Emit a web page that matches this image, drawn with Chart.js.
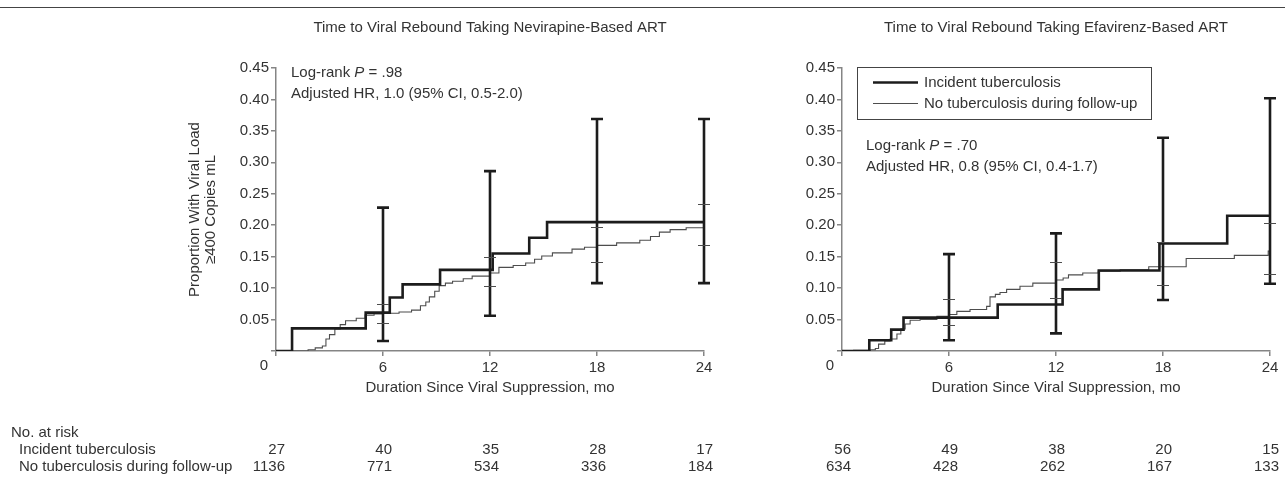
<!DOCTYPE html>
<html>
<head>
<meta charset="utf-8">
<script src="https://cdn.jsdelivr.net/npm/chart.js@4.4.1/dist/chart.umd.min.js"></script>
<style>
  body { margin: 0; background: #fff; }
  #fig { position: relative; width: 1285px; height: 485px; overflow: hidden; background: #fff; }
  #rule { position: absolute; left: 0; top: 7px; width: 1285px; height: 0; border-top: 1px solid #444; }
  canvas { position: absolute; top: 0; }
  #left { left: 0; }
  #right { left: 722px; }
</style>
</head>
<body>
<div id="fig">
  <div id="rule"></div>
  <canvas id="left" width="722" height="485"></canvas>
  <canvas id="right" width="563" height="485"></canvas>
</div>
<script>
// Months at which CI bars and at-risk counts are reported
const ciMonths = [6, 12, 18, 24];
const riskMonths = [0, 6, 12, 18, 24];

// Nevirapine-based ART
const nvpTbMonths = [0, 0.9, 5.03, 6.38, 7.1, 9.2, 12.15, 14.2, 15.2, 24];
const nvpTbProp   = [0, 0.036, 0.061, 0.085, 0.106, 0.129, 0.155, 0.18, 0.205, 0.205];
const nvpNoTbMonths = [0, 1.8, 2.2, 2.6, 2.8, 3.0, 3.3, 3.6, 3.9, 4.5, 5.0, 5.5, 6.0, 6.9, 7.6, 8.1, 8.4, 8.6, 8.9, 9.15, 9.5, 9.9, 10.5, 11.0, 12.0, 12.5, 13.3, 14.0, 14.5, 14.9, 15.5, 16.6, 17.3, 18.0, 19.1, 20.4, 21.0, 21.5, 22.1, 23.0, 24.0];
const nvpNoTbProp   = [0, 0.002, 0.005, 0.008, 0.019, 0.026, 0.035, 0.042, 0.048, 0.052, 0.057, 0.059, 0.06, 0.062, 0.065, 0.072, 0.078, 0.086, 0.095, 0.104, 0.108, 0.111, 0.115, 0.119, 0.124, 0.133, 0.136, 0.14, 0.146, 0.151, 0.156, 0.162, 0.165, 0.168, 0.172, 0.176, 0.182, 0.189, 0.193, 0.196, 0.198];
const nvpTbLow    = [0.016, 0.056, 0.108, 0.108];
const nvpTbHigh   = [0.228, 0.286, 0.369, 0.369];
const nvpNoTbLow  = [0.044, 0.104, 0.142, 0.168];
const nvpNoTbHigh = [0.074, 0.150, 0.197, 0.234];
const nvpRiskTb   = [27, 40, 35, 28, 17];
const nvpRiskNoTb = [1136, 771, 534, 336, 184];

// Efavirenz-based ART
const efvTbMonths = [0, 1.53, 2.76, 3.45, 8.73, 12.37, 14.4, 17.8, 21.6, 24];
const efvTbProp   = [0, 0.017, 0.034, 0.053, 0.074, 0.098, 0.128, 0.171, 0.215, 0.215];
const efvNoTbMonths = [0, 0.65, 1.59, 1.87, 2.05, 2.4, 2.7, 3.08, 3.3, 3.54, 3.82, 4.38, 5.32, 6.0, 6.44, 7.18, 8.11, 8.3, 8.6, 8.86, 9.23, 9.98, 10.7, 12.0, 12.4, 12.7, 13.5, 14.37, 15.6, 17.2, 19.3, 22.0, 23.9, 24];
const efvNoTbProp   = [0, 0.001, 0.002, 0.004, 0.011, 0.016, 0.019, 0.027, 0.035, 0.043, 0.049, 0.05, 0.055, 0.058, 0.063, 0.066, 0.071, 0.086, 0.09, 0.093, 0.098, 0.103, 0.108, 0.113, 0.116, 0.121, 0.124, 0.127, 0.129, 0.134, 0.147, 0.152, 0.159, 0.159];
const efvTbLow    = [0.017, 0.028, 0.081, 0.107];
const efvTbHigh   = [0.154, 0.187, 0.339, 0.402];
const efvNoTbLow  = [0.042, 0.084, 0.105, 0.122];
const efvNoTbHigh = [0.083, 0.142, 0.173, 0.204];
const efvRiskTb   = [56, 49, 38, 20, 15];
const efvRiskNoTb = [634, 428, 262, 167, 133];

const FAMILY = "'Liberation Sans', Arial, Helvetica, sans-serif";
const SIZE = 15;
const INK = '#333';
const AXIS = '#858585';
const TB_COLOR = '#1c1c1c';
const NOTB_COLOR = '#4d4d4d';
const PLOT_TOP = 68;
const PLOT_BOTTOM = 351;
const XAXIS_H = 50;

function toPoints(xs, ys) {
    return xs.map((x, i) => ({ x: x, y: ys[i] }));
}

function font(style) {
    return (style || '') + ' ' + SIZE + 'px ' + FAMILY;
}

// draws a line of text made of plain and italic pieces
function drawRuns(ctx, x, y, runs) {
    runs.forEach(run => {
        ctx.font = font(run.italic ? 'italic' : '');
        ctx.fillText(run.text, x, y);
        x += ctx.measureText(run.text).width;
    });
}

function figureExtras(fig) {
    return {
        id: 'figureExtras',
        afterDatasetsDraw(chart) {
            const { ctx, scales: { x, y } } = chart;
            ctx.save();
            ciMonths.forEach((m, i) => {
                const px = x.getPixelForValue(m);
                // incident TB interval with end caps
                ctx.strokeStyle = TB_COLOR;
                ctx.lineWidth = 2.6;
                ctx.beginPath();
                ctx.moveTo(px, y.getPixelForValue(fig.tbLow[i]));
                ctx.lineTo(px, y.getPixelForValue(fig.tbHigh[i]));
                [fig.tbLow[i], fig.tbHigh[i]].forEach(v => {
                    const py = y.getPixelForValue(v);
                    ctx.moveTo(px - 6, py);
                    ctx.lineTo(px + 6, py);
                });
                ctx.stroke();
                // no-TB interval marked by two short ticks
                ctx.strokeStyle = NOTB_COLOR;
                ctx.lineWidth = 1;
                ctx.beginPath();
                [fig.noTbLow[i], fig.noTbHigh[i]].forEach(v => {
                    const py = Math.round(y.getPixelForValue(v)) + 0.5;
                    ctx.moveTo(px - 6, py);
                    ctx.lineTo(px + 6, py);
                });
                ctx.stroke();
            });
            ctx.restore();
        },
        afterDraw(chart) {
            const { ctx, chartArea, scales: { x } } = chart;
            ctx.save();
            ctx.fillStyle = INK;
            ctx.textBaseline = 'middle';

            // panel title
            ctx.font = font();
            ctx.textAlign = 'center';
            ctx.fillText(fig.title, (chartArea.left + chartArea.right) / 2, 28);

            // shared origin label
            ctx.fillText('0', x.getPixelForValue(0) - 12, PLOT_BOTTOM + 15);

            // test statistics
            ctx.textAlign = 'left';
            const ax = chartArea.left + fig.noteDx;
            drawRuns(ctx, ax, fig.noteY, [{ text: 'Log-rank ' }, { text: 'P', italic: true }, { text: ' = ' + fig.pValue }]);
            drawRuns(ctx, ax, fig.noteY + 21, [{ text: fig.hrText }]);

            // legend box
            if (fig.legend) {
                const lx = chartArea.left + 15;
                const ly = chartArea.top - 0.5;
                ctx.strokeStyle = '#444';
                ctx.lineWidth = 1;
                ctx.strokeRect(Math.round(lx) + 0.5, ly, 294, 52);
                chart.data.datasets.forEach((ds, i) => {
                    const ry = ly + 15 + i * 21;
                    ctx.strokeStyle = ds.borderColor;
                    ctx.lineWidth = ds.borderWidth;
                    ctx.beginPath();
                    ctx.moveTo(lx + 16, ry);
                    ctx.lineTo(lx + 61, ry);
                    ctx.stroke();
                    ctx.font = font();
                    ctx.fillText(ds.label, lx + 67, ry);
                });
            }

            // number at risk table
            ctx.font = font();
            if (fig.riskLabels) {
                ctx.textAlign = 'left';
                ctx.fillText('No. at risk', 11, 433);
                ctx.fillText('Incident tuberculosis', 19, 450);
                ctx.fillText('No tuberculosis during follow-up', 19, 467);
            }
            ctx.textAlign = 'right';
            riskMonths.forEach((m, i) => {
                const px = x.getPixelForValue(m) + 9;
                ctx.fillText(String(fig.riskTb[i]), px, 450);
                ctx.fillText(String(fig.riskNoTb[i]), px, 467);
            });
            ctx.restore();
        }
    };
}

function kmChart(canvasId, fig) {
    const canvas = document.getElementById(canvasId);
    const ctx = canvas.getContext('2d');
    const axisFont = { family: FAMILY, size: SIZE };
    return new Chart(ctx, {
        type: 'line',
        data: {
            datasets: [
                {
                    label: 'Incident tuberculosis',
                    data: toPoints(fig.tbMonths, fig.tbProp),
                    borderColor: TB_COLOR,
                    borderWidth: 2.6,
                    stepped: true,
                    pointRadius: 0,
                    fill: false
                },
                {
                    label: 'No tuberculosis during follow-up',
                    data: toPoints(fig.noTbMonths, fig.noTbProp),
                    borderColor: NOTB_COLOR,
                    borderWidth: 1.1,
                    stepped: true,
                    pointRadius: 0,
                    fill: false
                }
            ]
        },
        options: {
            responsive: false,
            animation: false,
            events: [],
            layout: {
                padding: {
                    left: 0,
                    top: PLOT_TOP,
                    right: canvas.width - fig.plotRight,
                    bottom: canvas.height - PLOT_BOTTOM - XAXIS_H
                }
            },
            scales: {
                x: {
                    type: 'linear',
                    min: 0,
                    max: 24,
                    afterFit: s => { s.height = XAXIS_H; },
                    ticks: {
                        stepSize: 6,
                        padding: 3,
                        color: INK,
                        font: axisFont,
                        maxRotation: 0,
                        callback: v => (v === 0 ? '' : String(v))
                    },
                    grid: { drawOnChartArea: false, tickLength: 5, color: AXIS, lineWidth: 1.5 },
                    border: { color: AXIS, width: 1.5 },
                    title: {
                        display: true,
                        text: 'Duration Since Viral Suppression, mo',
                        color: INK,
                        font: axisFont,
                        padding: { top: 0, bottom: 4 }
                    }
                },
                y: {
                    min: 0,
                    max: 0.45,
                    afterFit: s => { s.width = fig.plotLeft; },
                    ticks: {
                        stepSize: 0.05,
                        padding: 2,
                        color: INK,
                        font: axisFont,
                        callback: v => (Math.abs(v) < 1e-9 ? '' : v.toFixed(2))
                    },
                    grid: { drawOnChartArea: false, tickLength: 5, color: AXIS, lineWidth: 1.5 },
                    border: { color: AXIS, width: 1.5 },
                    title: {
                        display: !!fig.yTitle,
                        text: fig.yTitle || '',
                        color: INK,
                        font: { family: FAMILY, size: SIZE, lineHeight: 1.04 },
                        padding: { top: 187, bottom: 0 }
                    }
                }
            },
            plugins: {
                legend: { display: false },
                tooltip: { enabled: false },
                title: { display: false }
            }
        },
        plugins: [figureExtras(fig)]
    });
}

kmChart('left', {
    title: 'Time to Viral Rebound Taking Nevirapine-Based ART',
    plotLeft: 276,
    plotRight: 704,
    yTitle: ['Proportion With Viral Load', '\u2265400 Copies mL'],
    tbMonths: nvpTbMonths, tbProp: nvpTbProp,
    noTbMonths: nvpNoTbMonths, noTbProp: nvpNoTbProp,
    tbLow: nvpTbLow, tbHigh: nvpTbHigh,
    noTbLow: nvpNoTbLow, noTbHigh: nvpNoTbHigh,
    riskTb: nvpRiskTb, riskNoTb: nvpRiskNoTb,
    riskLabels: true,
    legend: false,
    noteDx: 15,
    noteY: 73,
    pValue: '.98',
    hrText: 'Adjusted HR, 1.0 (95% CI, 0.5-2.0)'
});

kmChart('right', {
    title: 'Time to Viral Rebound Taking Efavirenz-Based ART',
    plotLeft: 120,
    plotRight: 548,
    yTitle: null,
    tbMonths: efvTbMonths, tbProp: efvTbProp,
    noTbMonths: efvNoTbMonths, noTbProp: efvNoTbProp,
    tbLow: efvTbLow, tbHigh: efvTbHigh,
    noTbLow: efvNoTbLow, noTbHigh: efvNoTbHigh,
    riskTb: efvRiskTb, riskNoTb: efvRiskNoTb,
    riskLabels: false,
    legend: true,
    noteDx: 24,
    noteY: 146,
    pValue: '.70',
    hrText: 'Adjusted HR, 0.8 (95% CI, 0.4-1.7)'
});
</script>
</body>
</html>
